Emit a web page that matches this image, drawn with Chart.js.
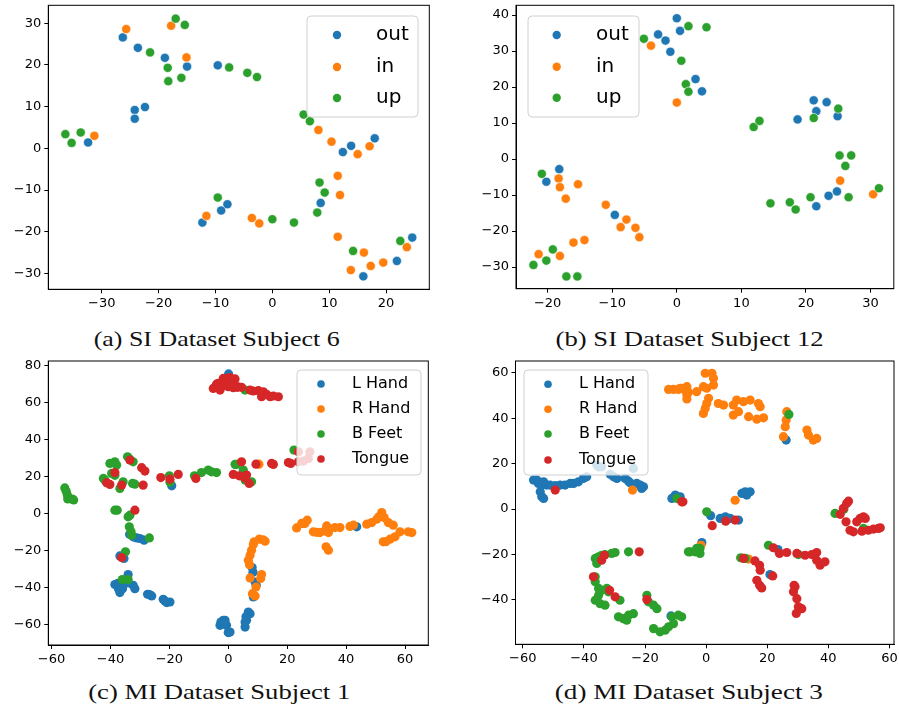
<!DOCTYPE html>
<html><head><meta charset="utf-8">
<script src="https://cdn.jsdelivr.net/npm/chart.js@4/dist/chart.umd.min.js"></script>
<style>
html,body{margin:0;padding:0;background:#fff;}
#wrap{position:relative;width:899px;height:711px;overflow:hidden;background:#fff;}
canvas{position:absolute;}
.cap{position:absolute;font-family:"Liberation Serif","DejaVu Serif",serif;font-size:21px;color:#111;white-space:nowrap;line-height:24px;}
</style></head><body>
<div id="wrap">
<canvas id="ca" width="450" height="315" style="left:0;top:0"></canvas>
<canvas id="cb" width="449" height="315" style="left:450px;top:0"></canvas>
<canvas id="cc" width="450" height="315" style="left:0;top:355px"></canvas>
<canvas id="cd" width="449" height="315" style="left:450px;top:355px"></canvas>
<span class="cap" id="capA">(a) SI Dataset Subject 6</span>
<span class="cap" id="capB">(b) SI Dataset Subject 12</span>
<span class="cap" id="capC">(c) MI Dataset Subject 1</span>
<span class="cap" id="capD">(d) MI Dataset Subject 3</span>
</div>
<script>
// ---------- data ----------
const siClasses = ["out", "in", "up"];
const miClasses = ["L Hand", "R Hand", "B Feet", "Tongue"];
const palette = ["#1f77b4", "#ff7f0e", "#2ca02c", "#d62728"];

const aXTicks = [-30, -20, -10, 0, 10, 20];
const aYTicks = [-30, -20, -10, 0, 10, 20, 30];
const bXTicks = [-20, -10, 0, 10, 20, 30];
const bYTicks = [-30, -20, -10, 0, 10, 20, 30, 40];
const cXTicks = [-60, -40, -20, 0, 20, 40, 60];
const cYTicks = [-60, -40, -20, 0, 20, 40, 60, 80];
const dXTicks = [-60, -40, -20, 0, 20, 40, 60];
const dYTicks = [-40, -20, 0, 20, 40, 60];

// (a) SI Dataset Subject 6
const aOut = [[-26.3,26.6],[-23.65,24.1],[-18.9,21.7],[-15.0,19.6],[-9.6,19.9],[-24.2,9.2],[-22.4,9.9],[-24.2,7.1],[-32.4,1.4],[12.4,-0.9],[13.85,0.6],[18.0,2.4],[8.5,-13.1],[-12.3,-17.8],[-9.0,-14.9],[-7.9,-13.4],[16.0,-30.7],[21.9,-27.0],[24.6,-21.4]];
const aIn = [[-25.7,28.6],[-17.8,29.4],[-15.1,21.8],[-31.3,3.0],[8.1,4.4],[10.4,1.6],[15.0,-1.4],[17.1,0.5],[11.5,-6.6],[11.9,-11.2],[-11.6,-16.2],[-3.6,-16.7],[-2.3,-18.0],[11.5,-21.2],[13.8,-29.2],[16.1,-25.0],[17.3,-28.2],[19.5,-27.4],[23.65,-23.7]];
const aUp = [[-17.0,31.1],[-15.4,29.6],[-21.5,23.0],[-18.4,19.3],[-18.3,16.1],[-16.0,16.9],[-7.6,19.4],[-4.4,18.1],[-2.7,17.1],[-36.4,3.4],[-35.3,1.3],[-33.7,3.8],[5.5,8.1],[6.6,6.5],[8.3,-8.2],[9.2,-10.6],[7.9,-15.4],[-9.6,-11.8],[0.0,-17.0],[3.8,-17.8],[14.2,-24.6],[22.5,-22.2]];

// (b) SI Dataset Subject 12
const bOut = [[0.0,39.1],[0.5,35.6],[-2.9,34.6],[-1.75,32.9],[-1.0,29.8],[2.9,22.2],[3.9,18.8],[21.2,16.3],[21.6,13.3],[23.2,15.8],[18.7,11.0],[24.9,11.9],[-18.2,-2.8],[-20.2,-6.3],[-9.6,-15.5],[21.6,-13.1],[23.5,-10.2],[24.8,-9.0]];
const bIn = [[-4.0,31.5],[0.0,15.7],[-18.3,-5.4],[-18.1,-7.8],[-17.2,-11.0],[-15.3,-7.0],[-11.0,-12.7],[-8.7,-18.9],[-7.8,-16.8],[-6.4,-19.1],[-5.8,-21.7],[-21.4,-26.4],[-18.1,-26.9],[-16.0,-23.2],[-14.3,-22.5],[25.3,-6.0],[30.4,-9.8]];
const bUp = [[-5.1,33.4],[1.8,36.9],[4.6,36.6],[0.7,27.3],[1.4,20.8],[1.8,18.7],[11.9,8.9],[12.8,10.6],[21.2,11.4],[25.0,14.0],[25.2,1.0],[27.0,1.0],[26.1,-1.9],[26.6,-10.6],[31.3,-8.1],[20.7,-10.6],[17.5,-12.0],[18.4,-14.0],[14.5,-12.3],[-20.9,-4.1],[-22.2,-29.4],[-20.2,-28.2],[-19.2,-25.1],[-17.1,-32.6],[-15.4,-32.6]];

// (c) MI Dataset Subject 1
const cLHand = [[0.1,75.5],[-19.2,15.1],[-32.3,-12.4],[-31.1,-13.0],[-30.0,-13.3],[-28.6,-14.2],[-33.5,-11.0],[-36.8,-22.7],[-35.4,-24.1],[-34.0,-32.8],[-38.5,-38.2],[-37.3,-40.4],[-36.8,-42.5],[-35.9,-40.4],[-32.3,-38.6],[-31.7,-40.4],[-34.0,-37.3],[-37.5,-37.5],[-36.5,-39.0],[-27.4,-43.4],[-26.0,-44.3],[-26.8,-43.6],[-22.1,-46.1],[-20.9,-47.9],[-19.8,-47.6],[-21.5,-47.0],[-2.5,-58.4],[-1.1,-57.5],[-0.6,-60.2],[0.6,-63.8],[0.0,-64.1],[-1.7,-57.5],[-2.8,-60.2],[-1.5,-59.0],[5.7,-61.1],[6.2,-57.5],[6.8,-53.0],[7.4,-53.9],[5.7,-58.4],[6.0,-55.5],[8.1,-29.0],[9.1,-36.8],[8.5,-44.9],[8.4,-31.5],[9.5,-38.5],[25.5,-5.2],[43.6,-7.0]];
const cRHand = [[10.4,26.8],[6.8,-25.1],[7.4,-22.3],[7.9,-19.6],[8.5,-16.6],[8.8,-15.1],[10.5,-13.7],[12.5,-14.8],[11.8,-14.0],[7.4,-34.6],[11.3,-32.8],[11.0,-34.9],[9.4,-39.5],[8.2,-43.1],[9.1,-44.3],[7.2,-27.5],[23.2,-7.6],[24.9,-5.2],[26.8,-3.4],[26.0,-5.2],[28.9,-9.7],[31.1,-10.1],[32.8,-9.2],[33.4,-6.5],[34.0,-10.1],[36.2,-7.4],[37.9,-7.4],[41.3,-6.8],[42.5,-6.1],[33.2,-17.8],[34.0,-19.6],[30.0,-10.0],[47.0,-5.6],[48.7,-4.7],[50.4,-2.9],[52.1,0.7],[52.9,-2.0],[54.3,-4.7],[56.0,-6.1],[52.6,-15.1],[54.9,-13.7],[56.6,-12.4],[58.3,-9.7],[61.1,-9.7],[62.3,-10.1],[51.2,-1.5],[53.5,-15.0]];
const cBFeet = [[-55.5,14.0],[-55.0,12.0],[-54.6,10.0],[-54.5,8.0],[-53.0,8.0],[-52.5,7.5],[-42.4,19.1],[-41.9,18.2],[-40.2,27.2],[-38.5,28.1],[-37.9,26.3],[-39.6,21.8],[-38.5,20.8],[-35.7,17.3],[-36.8,13.7],[-34.2,30.8],[-33.4,29.5],[-32.3,28.1],[-32.5,16.4],[-31.7,16.0],[-20.0,20.5],[-19.8,17.0],[-11.5,20.5],[-9.1,22.3],[-6.8,23.6],[-5.7,22.7],[-4.0,22.3],[2.8,26.7],[2.3,26.7],[5.1,23.6],[5.7,18.2],[7.9,17.3],[22.3,34.4],[5.7,66.8],[-38.5,2.0],[-37.7,2.0],[-34.0,-1.6],[-33.4,-0.7],[-33.6,-7.0],[-33.0,-9.7],[-32.8,-11.5],[-26.8,-13.0],[-34.9,-20.5],[-36.0,-35.5],[-34.0,-35.5]];
const cTongue = [[-5.1,67.7],[-3.4,70.5],[-2.8,66.8],[-1.7,72.3],[-0.6,73.2],[0.6,73.5],[2.3,72.8],[3.1,68.3],[-2.3,68.6],[0.0,68.6],[1.7,68.1],[-1.7,73.1],[3.4,68.6],[4.5,68.3],[7.4,66.8],[8.5,66.3],[10.2,66.5],[11.9,65.9],[11.3,63.2],[13.0,64.5],[14.2,63.2],[15.3,63.6],[17.0,63.2],[-4.0,70.0],[1.2,71.0],[-38.5,22.3],[-41.3,16.8],[-40.2,15.9],[-36.2,15.5],[-33.4,29.0],[-29.4,24.9],[-28.3,23.1],[-28.9,15.5],[-22.9,19.6],[-19.8,18.7],[-17.0,21.3],[-11.0,19.1],[1.7,21.3],[3.7,20.5],[4.5,28.1],[6.2,20.9],[7.1,16.4],[9.4,26.8],[14.7,27.2],[15.3,26.7],[20.4,27.7],[21.2,27.2],[23.8,33.5],[25.5,28.5],[27.2,29.9],[27.7,33.5],[23.8,28.1],[5.5,19.5],[-31.7,2.0],[-36.2,-23.6]];

// (d) MI Dataset Subject 3
const dLHand = [[-56.5,12.8],[-55.4,12.8],[-54.9,11.3],[-53.8,10.6],[-53.2,12.0],[-54.3,7.6],[-53.8,5.4],[-53.2,4.7],[-52.2,10.6],[-51.1,10.6],[-49.4,10.3],[-47.8,10.6],[-46.2,10.6],[-44.5,11.3],[-43.4,11.3],[-41.8,12.0],[-40.2,13.5],[-39.1,14.2],[-35.8,19.4],[-35.2,18.6],[-34.2,18.6],[-31.4,15.3],[-30.3,14.2],[-29.2,13.5],[-26.5,13.5],[-25.4,12.3],[-24.9,11.6],[-23.8,17.9],[-22.7,11.3],[-21.6,10.6],[-20.5,9.8],[-21.1,9.1],[-8.5,5.4],[-11.2,4.7],[-10.1,6.2],[11.7,6.9],[12.8,7.6],[14.4,7.6],[13.3,6.2],[1.5,-2.9],[4.6,-4.1],[6.3,-3.4],[7.9,-4.1],[10.6,-4.8],[-1.4,-14.7],[23.5,-17.8],[20.9,-28.8],[26.2,30.4],[-11.5,-47.0]];
const dRHand = [[-12.3,52.7],[-10.7,52.7],[-9.1,52.7],[-8.0,53.2],[-6.9,52.4],[-6.3,48.5],[-5.8,51.4],[-8.5,53.2],[-6.3,53.9],[-6.3,50.2],[-3.1,51.7],[-0.9,53.9],[-0.3,59.8],[1.9,59.8],[2.4,57.6],[2.4,54.6],[0.2,53.2],[0.8,48.8],[0.2,46.5],[-0.3,44.3],[-0.9,42.1],[4.0,46.5],[5.7,45.8],[8.9,45.8],[10.0,48.0],[12.2,47.3],[14.4,48.0],[17.1,46.5],[17.7,45.1],[8.9,41.4],[10.6,42.9],[13.9,40.7],[16.6,39.6],[18.8,40.2],[26.4,42.9],[26.2,39.2],[25.9,36.3],[25.3,31.9],[33.0,34.8],[33.5,32.6],[35.1,30.4],[36.2,31.1],[-24.1,8.4],[9.5,3.9],[-1.7,-15.9],[13.9,-22.0]];
const dBFeet = [[-36.3,-21.7],[-35.2,-21.0],[-34.2,-20.3],[-33.1,-20.0],[-30.9,-19.5],[-29.8,-19.1],[-35.8,-23.9],[-36.3,-29.8],[-36.3,-32.0],[-35.2,-34.9],[-34.2,-35.7],[-32.5,-34.9],[-32.0,-36.4],[-36.3,-40.1],[-34.7,-41.6],[-33.1,-42.3],[-35.2,-37.9],[-28.2,-40.1],[-28.7,-47.4],[-27.1,-48.2],[-26.0,-48.9],[-25.4,-46.7],[-23.8,-46.0],[-25.4,-18.8],[-19.4,-37.9],[-18.9,-40.8],[-17.2,-42.3],[-16.1,-43.8],[-17.2,-52.6],[-15.1,-54.0],[-13.4,-53.3],[-12.3,-51.8],[-10.7,-50.4],[-9.1,-46.7],[-11.2,-47.4],[-8.0,-47.4],[-9.6,4.7],[0.2,-1.2],[-5.2,-18.8],[-3.6,-18.8],[-2.0,-17.3],[-2.0,-19.5],[-3.1,-17.3],[-5.8,-18.8],[20.4,-15.9],[30.2,-20.0],[11.3,-21.4],[12.8,-21.7],[42.2,-1.9],[45.1,0.0],[51.5,-8.5],[27.1,41.7]];
const dTongue = [[-49.4,8.4],[-7.6,3.2],[-8.0,3.2],[2.0,-7.3],[6.4,-5.3],[9.5,-4.8],[22.0,-17.0],[24.0,-19.5],[26.4,-19.1],[29.7,-19.5],[32.4,-20.3],[34.6,-20.0],[36.2,-19.1],[36.2,-22.5],[37.3,-24.7],[38.9,-23.2],[12.2,-21.7],[16.0,-22.8],[17.5,-24.7],[17.7,-26.9],[16.6,-31.3],[17.5,-33.5],[18.2,-34.7],[21.8,-29.4],[28.6,-36.4],[29.1,-34.2],[29.7,-39.4],[30.2,-43.0],[29.5,-45.9],[31.3,-43.8],[28.8,-33.5],[43.9,-2.3],[44.9,0.3],[46.0,2.5],[46.6,3.5],[45.8,-5.6],[47.1,-9.3],[48.2,-10.0],[49.3,-5.6],[50.4,-4.1],[51.5,-3.4],[52.1,-4.1],[51.0,-9.7],[53.1,-9.3],[54.8,-8.8],[56.4,-8.5],[57.0,-8.2],[-36.9,-29.8],[-34.2,-22.5],[-33.3,-20.3],[-31.6,-35.7],[-29.8,-38.6],[-21.9,-18.8],[-19.4,-39.8]];

// ---------- plugins ----------
const framePlugin = {
  id: 'frame',
  afterDraw(chart) {
    const {ctx, chartArea: a} = chart;
    ctx.save();
    ctx.strokeStyle = '#000';
    ctx.lineWidth = 1;
    ctx.strokeRect(a.left, a.top, a.right - a.left, a.bottom - a.top);
    ctx.restore();
  }
};
const legendPlugin = {
  id: 'mplLegend',
  afterDatasetsDraw(chart, args, o) {
    const ctx = chart.ctx;
    ctx.save();
    const r = 4, x = o.x, y = o.y, w = o.w, h = o.h;
    ctx.beginPath();
    ctx.moveTo(x + r, y);
    ctx.lineTo(x + w - r, y); ctx.quadraticCurveTo(x + w, y, x + w, y + r);
    ctx.lineTo(x + w, y + h - r); ctx.quadraticCurveTo(x + w, y + h, x + w - r, y + h);
    ctx.lineTo(x + r, y + h); ctx.quadraticCurveTo(x, y + h, x, y + h - r);
    ctx.lineTo(x, y + r); ctx.quadraticCurveTo(x, y, x + r, y);
    ctx.closePath();
    ctx.fillStyle = 'rgba(255,255,255,0.8)';
    ctx.fill();
    ctx.strokeStyle = '#d0d0d0';
    ctx.lineWidth = 1;
    ctx.stroke();
    chart.data.datasets.forEach((ds, i) => {
      ctx.beginPath();
      ctx.arc(o.mx, o.rows[i], o.r, 0, Math.PI * 2);
      ctx.fillStyle = ds.backgroundColor;
      ctx.fill();
      ctx.fillStyle = '#000';
      ctx.font = o.fs + 'px "DejaVu Sans"';
      ctx.textBaseline = 'middle';
      ctx.textAlign = 'left';
      ctx.fillText(ds.label, o.tx, o.rows[i]);
    });
    ctx.restore();
  }
};

function fmt(v) { return v < 0 ? '\u2212' + Math.abs(v) : String(v); }

function axis(min, max, ticks, fitFn) {
  return {
    type: 'linear', min: min, max: max,
    afterBuildTicks: s => { s.ticks = ticks.map(v => ({value: v})); },
    afterFit: s => { fitFn(s); s.paddingLeft = 0; s.paddingRight = 0; s.paddingTop = 0; s.paddingBottom = 0; },
    ticks: { font: {family: 'DejaVu Sans', size: 13}, color: '#000', padding: 3, maxRotation: 0, autoSkip: false, callback: v => fmt(v) },
    grid: { drawOnChartArea: false, drawTicks: true, tickLength: 4, tickColor: '#000', tickWidth: 1 },
    border: { display: true, color: '#000', width: 1 }
  };
}

function makeChart(id, classes, series, order, ranges, xt, yt, area, leg, radius, bw) {
  const cv = document.getElementById(id);
  const W = cv.width, H = cv.height;
  const datasets = classes.map((name, i) => ({
    label: name,
    data: series[i].map(p => ({x: p[0], y: p[1]})),
    backgroundColor: palette[i],
    borderColor: '#ffffff',
    borderWidth: bw,
    pointRadius: radius,
    pointHoverRadius: radius,
    order: order[i]
  }));
  return new Chart(cv, {
    type: 'scatter',
    data: { datasets: datasets },
    plugins: [framePlugin, legendPlugin],
    options: {
      responsive: false, animation: false, events: [],
      layout: { padding: { left: 0, top: area.top, right: W - area.right, bottom: 0 } },
      scales: {
        x: axis(ranges[0], ranges[1], xt, s => { s.height = H - area.bottom; }),
        y: axis(ranges[2], ranges[3], yt, s => { s.width = area.left; })
      },
      plugins: { legend: { display: false }, tooltip: { enabled: false }, mplLegend: leg }
    }
  });
}

makeChart('ca', siClasses, [aOut, aIn, aUp], [3, 2, 1], [-39.4, 27.6, -33.8, 34.3], aXTicks, aYTicks,
  {left: 48.3, right: 429.3, top: 5.3, bottom: 289.3},
  {x: 307, y: 16, w: 111, h: 101, mx: 337, tx: 376, rows: [35, 67, 98], r: 4.2, fs: 20}, 4.6, 0.6);
makeChart('cb', siClasses, [bOut, bIn, bUp], [3, 2, 1], [-24.9, 33.6, -36.0, 42.7], bXTicks, bYTicks,
  {left: 66, right: 445, top: 5.3, bottom: 288.7},
  {x: 78, y: 16, w: 111, h: 101, mx: 106.7, tx: 146, rows: [35, 66.7, 97.7], r: 4.2, fs: 20}, 4.6, 0.6);
makeChart('cc', miClasses, [cLHand, cRHand, cBFeet, cTongue], [4, 3, 2, 1], [-61.1, 67.9, -70.8, 82.5], cXTicks, cYTicks,
  {left: 48.3, right: 428.3, top: 6, bottom: 290},
  {x: 297, y: 15, w: 124, h: 105, mx: 321, tx: 352, rows: [29, 54, 79, 104], r: 3.8, fs: 16}, 4.6, 0);
makeChart('cd', miClasses, [dLHand, dRHand, dBFeet, dTongue], [4, 3, 2, 1], [-62.4, 61.5, -59.5, 65.2], dXTicks, dYTicks,
  {left: 65.5, right: 444, top: 6, bottom: 289.3},
  {x: 74, y: 15, w: 124, h: 105, mx: 98, tx: 129, rows: [29.3, 54.3, 79, 105], r: 3.8, fs: 16}, 4.6, 0);

// captions
function placeCap(id, cx, cy, target) {
  const el = document.getElementById(id);
  const w = el.getBoundingClientRect().width;
  const s = target / w;
  el.style.left = (cx - w / 2) + 'px';
  el.style.top = (cy - 12) + 'px';
  el.style.transform = 'scaleX(' + s + ')';
}
placeCap('capA', 217, 339, 246);
placeCap('capB', 690, 339, 268);
placeCap('capC', 219, 692, 262);
placeCap('capD', 689, 692, 268);
</script>
</body></html>
